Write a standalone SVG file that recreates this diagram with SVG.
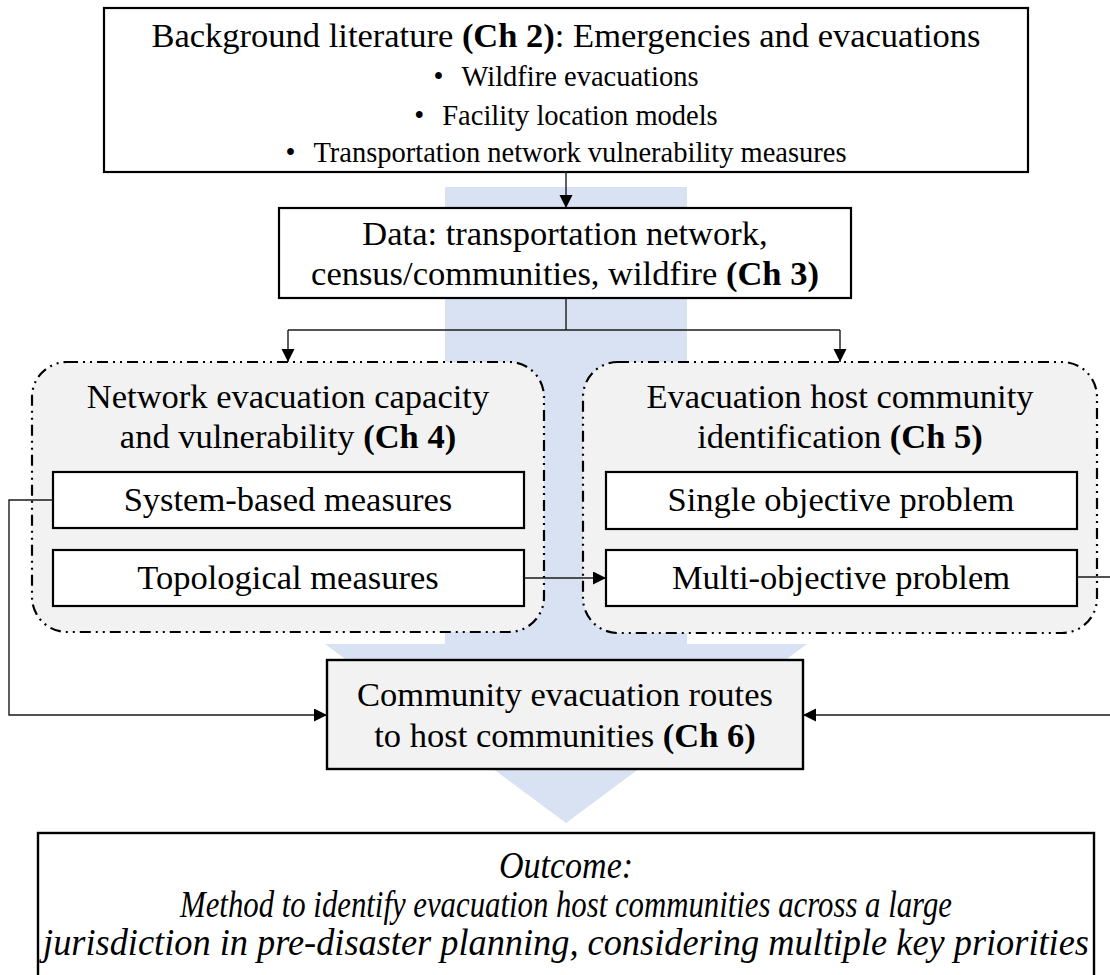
<svg xmlns="http://www.w3.org/2000/svg" width="1110" height="975" viewBox="0 0 1110 975">
<defs>
<marker id="arr" markerUnits="userSpaceOnUse" markerWidth="14" markerHeight="14" refX="13" refY="6.5" orient="auto">
<path d="M0,0 L13,6.5 L0,13 z" fill="#000"/>
</marker>
<style>
text{font-family:"Liberation Serif","Times New Roman",serif;fill:#000;}
.t{font-size:34.5px;text-anchor:middle;}
.b{font-size:28.5px;text-anchor:middle;}
.bold{font-weight:bold;}
.box{fill:#fff;stroke:#000;stroke-width:2.2;}
.gbox{fill:#f2f2f2;stroke:#000;stroke-width:2.4;}
.dd{fill:#f2f2f2;stroke:#000;stroke-width:2.2;stroke-dasharray:11 5 2 5 2 5;}
.con{fill:none;stroke:#1a1a1a;stroke-width:1.4;}
.out{font-size:37px;font-style:italic;text-anchor:middle;}
</style>
</defs>
<rect width="1110" height="975" fill="#fff"/>
<g id="flow-arrow">
<polygon points="445,187 687,187 687,644 807,644 566,823 325,644 445,644" fill="#d9e2f3"/>
</g>
<g id="background">
<rect class="box" x="104" y="8" width="924" height="164"/>
<text class="t" x="566" y="47">Background literature <tspan class="bold">(Ch 2)</tspan>: Emergencies and evacuations</text>
<text class="b" x="566" y="86"><tspan>•</tspan><tspan dx="18">Wildfire evacuations</tspan></text>
<text class="b" x="566" y="125"><tspan>•</tspan><tspan dx="18">Facility location models</tspan></text>
<text class="b" x="566" y="162"><tspan>•</tspan><tspan dx="18">Transportation network vulnerability measures</tspan></text>
</g>
<g id="data">
<rect class="box" x="279" y="208" width="572" height="90"/>
<text class="t" x="565" y="245">Data: transportation network,</text>
<text class="t" x="565" y="285">census/communities, wildfire <tspan class="bold">(Ch 3)</tspan></text>
</g>
<g id="network-group">
<rect class="dd" x="32" y="362" width="512" height="270" rx="35" ry="35"/>
<text class="t" x="288" y="408">Network evacuation capacity</text>
<text class="t" x="288" y="448">and vulnerability <tspan class="bold">(Ch 4)</tspan></text>
</g>
<g id="system-based">
<rect class="box" x="53" y="472" width="471" height="56"/>
<text class="t" x="288" y="511">System-based measures</text>
</g>
<g id="topological">
<rect class="box" x="53" y="550" width="471" height="56"/>
<text class="t" x="288" y="589">Topological measures</text>
</g>
<g id="host-group">
<rect class="dd" x="583" y="362" width="514" height="271" rx="35" ry="35"/>
<text class="t" x="840" y="408">Evacuation host community</text>
<text class="t" x="840" y="448">identification <tspan class="bold">(Ch 5)</tspan></text>
</g>
<g id="single-objective">
<rect class="box" x="606" y="472" width="471" height="57"/>
<text class="t" x="841" y="511">Single objective problem</text>
</g>
<g id="multi-objective">
<rect class="box" x="606" y="550" width="471" height="56"/>
<text class="t" x="841" y="589">Multi-objective problem</text>
</g>
<g id="routes">
<rect class="gbox" x="327" y="660" width="476" height="109"/>
<text class="t" x="565" y="706">Community evacuation routes</text>
<text class="t" x="565" y="747">to host communities <tspan class="bold">(Ch 6)</tspan></text>
</g>
<g id="outcome">
<rect x="38" y="833" width="1056" height="160" fill="#fff" stroke="#000" stroke-width="2.4"/>
<text class="out" transform="translate(566,878) scale(0.92,1)">Outcome:</text>
<text class="out" transform="translate(566,917) scale(0.832,1)">Method to identify evacuation host communities across a large</text>
<text class="out" transform="translate(566,955) scale(0.982,1)">jurisdiction in pre-disaster planning, considering multiple key priorities</text>
</g>
<g id="connectors">
<path class="con" d="M566,172 L566,208" marker-end="url(#arr)"/>
<path class="con" d="M566,298 L566,330"/>
<path class="con" d="M288,330 L840,330"/>
<path class="con" d="M288,330 L288,362" marker-end="url(#arr)"/>
<path class="con" d="M840,330 L840,362" marker-end="url(#arr)"/>
<path class="con" d="M524,578 L606,578" marker-end="url(#arr)"/>
<path class="con" d="M53,500 L9,500 L9,715 L327,715" marker-end="url(#arr)"/>
<path class="con" d="M1077,577 L1114,577 L1114,715 L803,715" marker-end="url(#arr)"/>
</g>
</svg>
